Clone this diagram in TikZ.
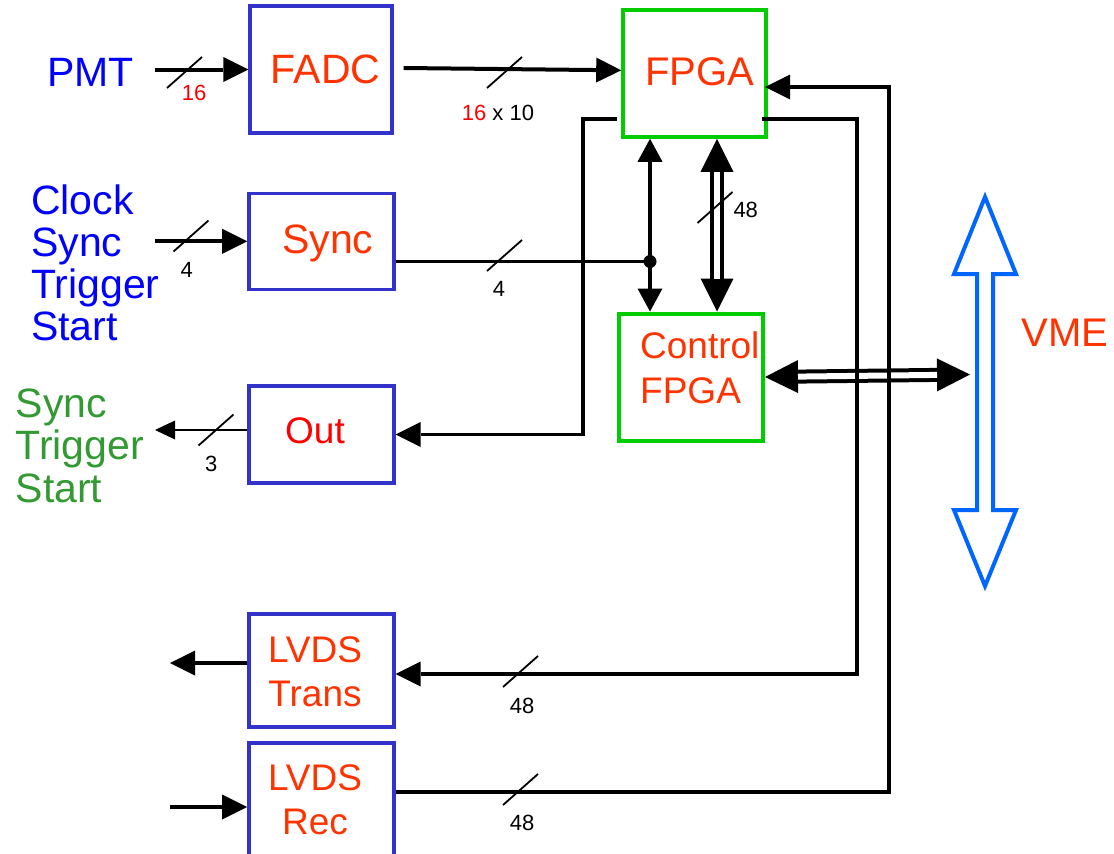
\documentclass[tikz,border=0pt]{standalone}
\usepackage{fontspec}
\setmainfont{Liberation Sans}
\usetikzlibrary{arrows.meta,calc}
\definecolor{boxblue}{HTML}{3333CC}
\definecolor{boxgreen}{HTML}{00CC00}
\definecolor{txtorange}{HTML}{FF3300}
\definecolor{txtred}{HTML}{FF0000}
\definecolor{txtblue}{HTML}{0000FF}
\definecolor{txtgreen}{HTML}{339933}
\definecolor{vmeblue}{HTML}{0066FF}
\begin{document}
\begin{tikzpicture}[x=1pt,y=-1pt,
  bluebox/.style={draw=boxblue,line width=3.4pt,inner sep=0pt},
  greenbox/.style={draw=boxgreen,line width=4pt,inner sep=0pt},
  bigtxt/.style={font=\fontsize{41}{42}\selectfont,inner sep=0pt},
  midtxt/.style={font=\fontsize{37}{44}\selectfont,inner sep=0pt},
  smalltxt/.style={font=\fontsize{22}{24}\selectfont,inner sep=0pt},
  wire/.style={line width=4pt},
  loopwire/.style={line width=3.5pt},
  arrhd/.style={-{Triangle[length=25pt,width=25pt,line width=0pt]}},
  arrthin/.style={-{Triangle[length=20pt,width=19pt,line width=0pt]}},
  arrvert/.style={-{Triangle[length=23pt,width=25pt,line width=0pt]}},
  dblarrow/.style={line width=14pt,{Triangle[length=33pt,width=33pt,line width=0pt]}-{Triangle[length=33pt,width=33pt,line width=0pt]}},
  dblinner/.style={white,line width=6pt,shorten <=33pt,shorten >=33pt},
  slash/.style={line width=1.8pt}
]
\useasboundingbox (0,0) rectangle (1114,854);

% boxes
\node[bluebox,minimum width=142pt,minimum height=127pt] (fadc) at (321,69.5) {};
\node[bluebox,minimum width=145pt,minimum height=96pt] (sync) at (321.4,241.3) {};
\node[bluebox,minimum width=145pt,minimum height=97pt] (out) at (321.4,434.5) {};
\node[bluebox,minimum width=145pt,minimum height=113pt] (trans) at (321.4,670.5) {};
\node[bluebox,minimum width=145pt,minimum height=113pt] (rec) at (321.4,799.5) {};
\node[greenbox,minimum width=143pt,minimum height=127pt] (fpga) at (694.7,73.3) {};
\node[greenbox,minimum width=144pt,minimum height=127pt] (ctrl) at (691,377) {};

% texts
\node[bigtxt,txtblue,anchor=base west] (pmt) at (47,86) {PMT};
\node[bigtxt,txtorange,anchor=base west] (fadctxt) at (270.7,83.5) {FADC};
\node[font=\fontsize{40}{42}\selectfont,inner sep=0pt,txtorange,anchor=base west] (fpgatxt) at (645,85) {FPGA};
\node[bigtxt,txtorange,anchor=base west] (synctxt) at (282,253.5) {Sync};
\node[midtxt,txtred,anchor=base west] (outtxt) at (285,443.5) {Out};
\node[font=\fontsize{40}{42}\selectfont,inner sep=0pt,txtorange,anchor=base west] (vmetxt) at (1021.7,346.7) {VME};
\node[bigtxt,txtblue,anchor=north west,align=left] (clocktxt) at (31,185) {Clock\\Sync\\Trigger\\Start};
\node[font=\fontsize{41}{42.5}\selectfont,inner sep=0pt,txtgreen,anchor=north west,align=left] (outsig) at (15.5,388.3) {Sync\\Trigger\\Start};
\node[font=\fontsize{37}{45}\selectfont,inner sep=0pt,txtorange,anchor=north west,align=left] (ctrltxt) at (640,331.7) {Control\\FPGA};
\node[midtxt,txtorange,anchor=north,align=center] (transtxt) at (315,636) {LVDS\\Trans};
\node[midtxt,txtorange,anchor=north,align=center] (rectxt) at (315,764) {LVDS\\Rec};

% small labels
\node[smalltxt,txtred,anchor=base west] (l16) at (181.7,100) {16};
\node[smalltxt,anchor=base west] (l1610) at (461.7,120) {\textcolor{txtred}{16} x 10};
\node[smalltxt,anchor=base] (l4a) at (186.7,277.3) {4};
\node[smalltxt,anchor=base] (l4b) at (499,296.7) {4};
\node[smalltxt,anchor=base] (l3) at (211.3,471.7) {3};
\node[smalltxt,anchor=base west] (l48a) at (733.3,217.3) {48};
\node[smalltxt,anchor=base] (l48b) at (522,713.3) {48};
\node[smalltxt,anchor=base] (l48c) at (522,830) {48};

% coordinates
\coordinate (pmtin) at (155,69.5);
\coordinate (syncin) at (155,241.3);
\coordinate (dot) at (650,261.5);
\coordinate (dbl) at (717,200);
\coordinate (vmeL) at (970,374.5);
\coordinate (lstub) at (617,119);
\coordinate (lcorner) at (583,119);
\coordinate (rstub) at (762,119);
\coordinate (rcorner) at (857,119);
\coordinate (rin) at (889,87);
\coordinate (outL) at (155,430);
\coordinate (transL) at (170,663);
\coordinate (recL) at (170,807);

% connectors
\draw[wire,arrhd] (pmtin) -- (pmtin -| fadc.west);
\draw[wire,arrhd] ($(fadc.east)+(10,-1.5)$) -- ($(fpga.west)+(0,-3)$);
\draw[wire,arrhd] (syncin) -- (syncin -| sync.west);
\draw[line width=3pt] (sync.east |- dot) -- (dot);
\fill (dot) circle (6.5);
\draw[loopwire,arrvert] (dot) -- (dot |- fpga.south);
\draw[loopwire,arrvert] (dot) -- (dot |- ctrl.north);
\draw[dblarrow] (dbl |- fpga.south) -- (dbl |- ctrl.north);
\draw[dblinner] (dbl |- fpga.south) -- (dbl |- ctrl.north);
\draw[dblarrow] (ctrl.east) -- (vmeL);
\draw[dblinner] (ctrl.east) -- (vmeL);
\draw[loopwire,arrhd] (lstub) -- (lcorner) |- (out.east);
\draw[line width=2.5pt,arrthin] (out.west |- outL) -- (outL);
\draw[loopwire,arrhd] (rstub) -- (rcorner) |- ($(trans.east)+(0,3.5)$);
\draw[loopwire,arrhd] ($(rec.east)+(0,-7.5)$) -| (rin) -- ($(rin -| fpga.east)+(-3,0)$);
\draw[loopwire,arrhd] (trans.west |- transL) -- (transL);
\draw[loopwire,arrhd] (recL) -- (recL -| rec.west);

% VME bus arrow
\draw[vmeblue,line width=4pt,line join=miter] (985,197) -- (1016,274) -- (993,274) -- (993,510) -- (1016,510) -- (985,586) -- (954,510) -- (977,510) -- (977,274) -- (954,274) -- cycle;

% bus-width slashes
\foreach \cx/\cy in {184.5/72.5, 504.5/72.5, 191/236, 504.5/255.5, 216/430, 715/207.5, 520.5/671.5, 520.5/789.5}
  \draw[slash] (\cx,\cy) +(-17.5,15.5) -- +(17.5,-15.5);
\end{tikzpicture}
\end{document}
